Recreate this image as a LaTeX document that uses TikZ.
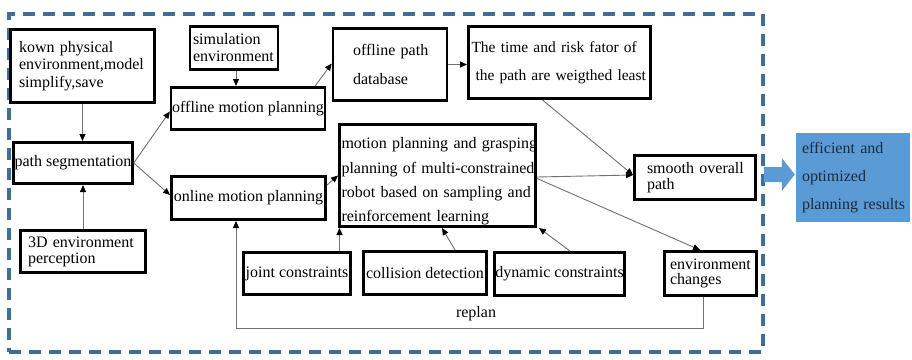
\documentclass[tikz,border=0pt]{standalone}
\usepackage{fontspec}
\setmainfont{Liberation Serif}
\usetikzlibrary{arrows.meta,calc}
\definecolor{lncol}{HTML}{707070}
\definecolor{dashcol}{HTML}{3D6D99}
\definecolor{resblue}{HTML}{5B9BD5}
\definecolor{restext}{HTML}{1C2B3D}
\begin{document}
\begin{tikzpicture}[x=1pt,y=-1pt,
  box/.style={draw=black,line width=2.6pt,rectangle,inner ysep=0pt,font=\fontsize{16}{18}\selectfont},
  conn/.style={draw=lncol,line width=0.9pt,-{Triangle[length=7pt,width=6pt,color=black]}}]
\useasboundingbox (0,0) rectangle (912,359);

% frame
\node[draw=dashcol,line width=3.5pt,dash pattern=on 12pt off 8pt,minimum width=754pt,minimum height=338pt,inner sep=0pt] (frame) at (386,183) {};

% boxes
\node[box,minimum width=144.4pt,minimum height=73.4pt,inner xsep=8.7pt,text width=127pt,align=left,font=\fontsize{16}{17.5}\selectfont] (kown) at (82.5,66) {\mbox{kown physical}\\\mbox{environment,model}\\\mbox{simplify,save}};
\node[box,minimum width=87.4pt,minimum height=43.4pt,inner xsep=3pt,text width=82pt,align=left,font=\fontsize{16}{17}\selectfont] (sim) at (234,48) {\mbox{simulation}\\\mbox{environment}};
\node[box,minimum width=153.4pt,minimum height=42.4pt,inner xsep=1pt] (offmp) at (248,108.5) {offline motion planning};
\node[box,minimum width=117.4pt,minimum height=41.4pt,inner xsep=1pt] (pathseg) at (73,163) {path segmentation};
\node[box,minimum width=154.4pt,minimum height=43.4pt,inner xsep=1pt] (onmp) at (248.5,198) {online motion planning};
\node[box,minimum width=125.4pt,minimum height=42.4pt,inner xsep=7.7pt,text width=110pt,align=left,font=\fontsize{16}{16}\selectfont] (perc) at (83,251.5) {\mbox{3D environment}\\\mbox{perception}};
\node[box,minimum width=107.4pt,minimum height=42.4pt,inner xsep=1pt] (joint) at (297,273.5) {joint constraints};
\node[box,minimum width=123.4pt,minimum height=43.4pt,inner xsep=1pt] (coll) at (425,273) {collision detection};
\node[box,minimum width=130.4pt,minimum height=43.4pt,inner xsep=1pt] (dyn) at (559.5,274) {dynamic constraints};
\node[box,minimum width=196.4pt,minimum height=102.4pt,inner xsep=2.2pt,text width=192pt,align=left,font=\fontsize{16}{24.4}\selectfont] (big) at (437.5,175.5) {\mbox{\rule{0pt}{23pt}motion planning and grasping}\\\mbox{planning of multi-constrained}\\\mbox{robot based on sampling and}\\\mbox{reinforcement learning}};
\node[box,minimum width=113.4pt,minimum height=72.4pt,inner xsep=20pt,text width=74pt,align=left,font=\fontsize{16}{29}\selectfont] (db) at (390,64.5) {\mbox{offline path}\\\mbox{database}};
\node[box,minimum width=182.4pt,minimum height=72.4pt,inner xsep=3.2pt,text width=176pt,align=left,font=\fontsize{15.5}{28}\selectfont] (time) at (559.5,62.5) {\mbox{The time and risk fator of}\\\mbox{\hspace*{4pt}the path are weigthed least}};
\node[box,minimum width=121.4pt,minimum height=44.4pt,inner xsep=12.7pt,text width=96pt,align=left,font=\fontsize{16}{15.5}\selectfont] (smooth) at (695,177.5) {\mbox{smooth overall}\\\mbox{path}};
\node[box,minimum width=92.4pt,minimum height=44.4pt,inner xsep=5.7pt,text width=81pt,align=left,font=\fontsize{16}{15}\selectfont] (envc) at (710.5,273.5) {\mbox{environment}\\\mbox{changes}};
\node[fill=resblue,minimum width=114pt,minimum height=89pt,inner xsep=6pt,inner ysep=0pt,text width=102pt,align=left,text=restext,font=\fontsize{16}{28}\selectfont] (result) at (853,177.5) {\mbox{efficient and}\\\mbox{optimized}\\\mbox{planning results}};

% big blue arrow
\coordinate (tip) at ($(result.west)+(-1,-3)$);
\fill[resblue] ($(frame.east |- tip)+(-1,-7.5)$) -- ($(tip)+(-13,-7.5)$) -- ($(tip)+(-13,-16.5)$) -- (tip) -- ($(tip)+(-13,16.5)$) -- ($(tip)+(-13,7.5)$) -- ($(frame.east |- tip)+(-1,7.5)$) -- cycle;

% connectors
\draw[conn] (kown.south) -- (kown.south |- pathseg.north);
\draw[conn] (perc.north) -- (perc.north |- pathseg.south);
\draw[conn] ($(sim.south)+(2,0)$) -- ($(sim.south |- offmp.north)+(2,0)$);
\draw[conn] (pathseg.east) -- ($(offmp.west)+(0,3)$);
\draw[conn] (pathseg.east) -- ($(onmp.west)+(0,-3)$);
\draw[conn] ($(offmp.north east)+(-11,0)$) -- ($(db.west)+(0,-1)$);
\draw[conn] (db.east) -- (db.east -| time.west);
\draw[conn] ($(time.south)+(-17,0)$) -- ($(smooth.west)+(0,-2.5)$);
\draw[conn] ($(big.east)+(0,1.5)$) -- ($(smooth.west)+(0,-2.5)$);
\draw[conn] ($(big.east)+(0,3)$) -- ($(envc.north west)+(37,0)$);
\draw[conn] ($(onmp.east)+(0,-13)$) -- (big.west);
\coordinate (jt) at ($(big.south west)+(1.5,0)$);
\draw[conn] (jt |- joint.north) -- (jt);
\draw[conn] ($(coll.north)+(30,0)$) -- ($(big.south)+(4.5,0)$);
\draw[conn] ($(dyn.north)+(10.5,0)$) -- ($(big.south east)+(2,0)$);

% replan loop
\coordinate (r1) at ($(envc.south)+(-7.5,0)$);
\coordinate (r2) at ($(onmp.south)+(-12.5,0)$);
\coordinate (r3) at ($(r1)+(0,31)$);
\draw[conn] (r1) -- (r3) -| (r2);
\node[font=\fontsize{16}{18}\selectfont,inner sep=0pt] (replan) at ($(r3)!0.5!(r3 -| r2)+(6.5,-14)$) {replan};
\end{tikzpicture}
\end{document}
